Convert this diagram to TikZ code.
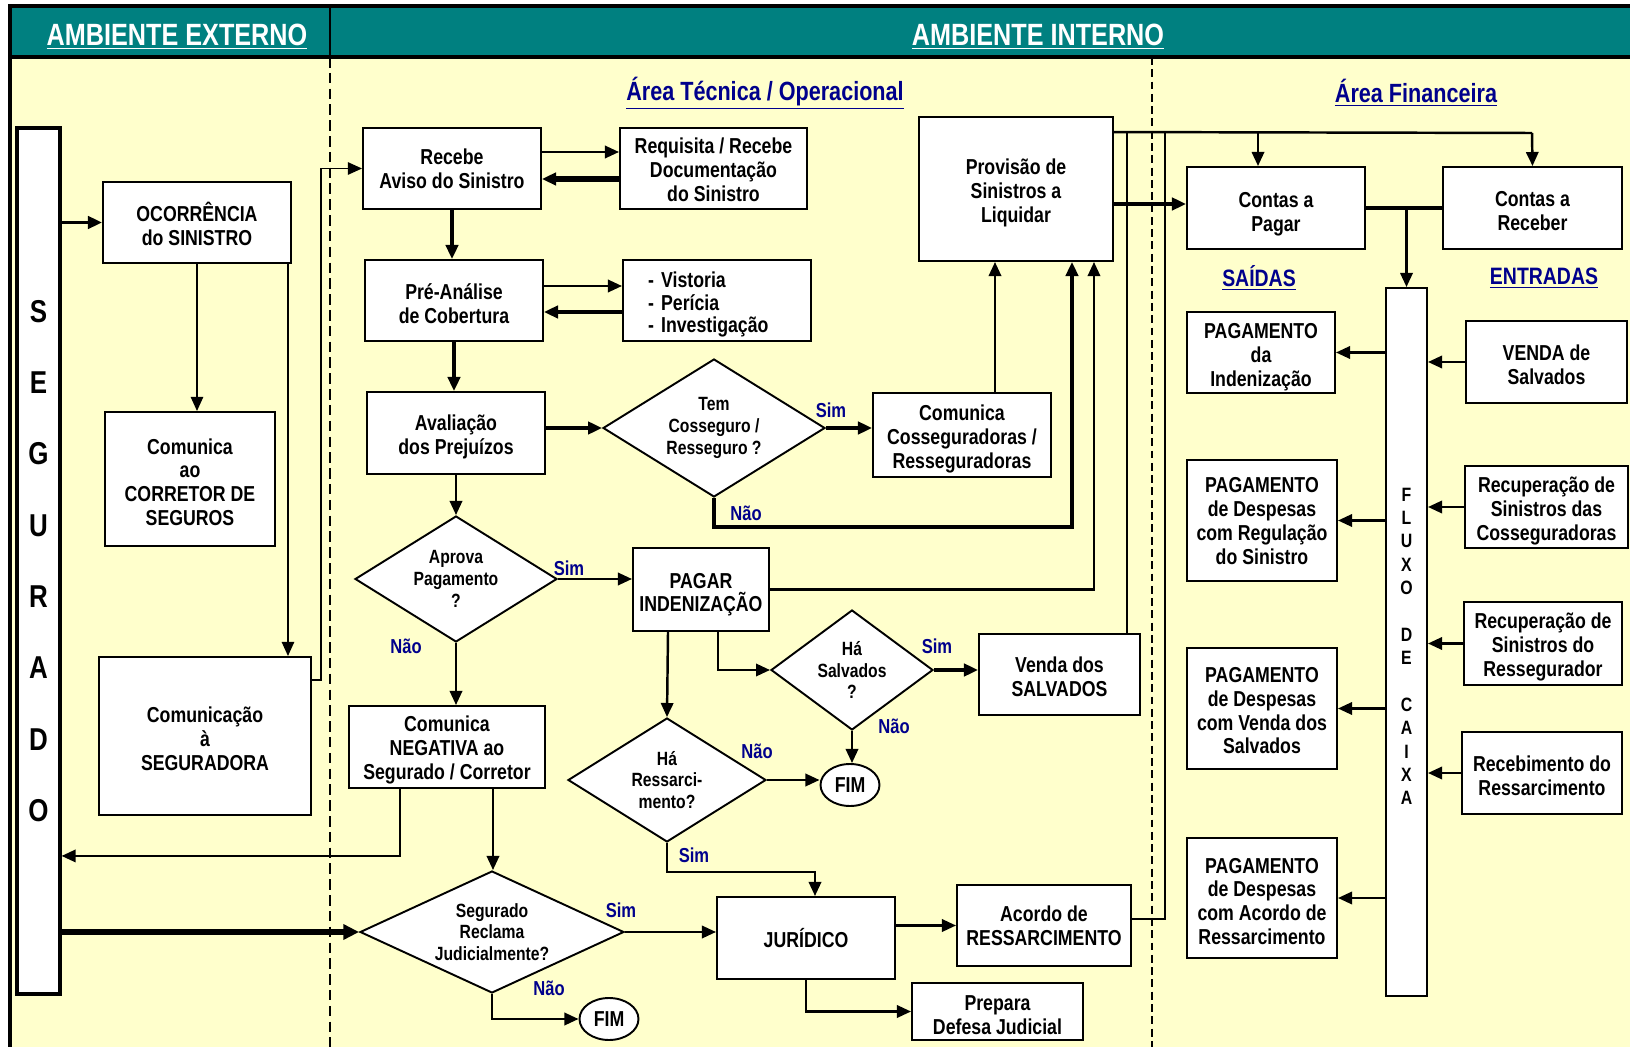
\documentclass[tikz,border=0pt]{standalone}
\usepackage{fontspec}
\setmainfont{Liberation Sans}[FakeStretch=0.82]
\usetikzlibrary{shapes.geometric,arrows.meta}
\definecolor{hdr}{RGB}{0,128,128}
\definecolor{bgy}{RGB}{255,255,204}
\definecolor{nvy}{RGB}{0,0,140}
\newcommand\bxf{\fontsize{12.3}{13.6}\selectfont\bfseries}
\newcommand\dmf{\fontsize{10.9}{12.3}\selectfont\bfseries}
\newcommand\bxs{12.5pt}
% \mkbox[opts]{name}{x1}{y1}{x2}{y2}{text}
\newcommand\mkbox[7][]{\node[box, minimum width={(#5-#3)*0.02cm}, minimum height={(#6-#4)*0.02cm}, #1] (#2) at ({(#3+#5)/2},{(#4+#6)/2}) {\rule{0pt}{\bxs}#7};}
\begin{document}
\begin{tikzpicture}[x=0.02cm,y=-0.02cm,
  box/.style={draw, fill=white, line width=1.1pt, inner sep=0pt, align=center, font=\bxf},
  dia/.style={draw, fill=white, diamond, line width=1.1pt, inner sep=0pt, align=center, font=\dmf},
  fimn/.style={draw, fill=white, ellipse, line width=1.1pt, inner sep=0pt, font=\bxf, minimum width=1.18cm, minimum height=0.84cm},
  lab/.style={font=\fontsize{11.5}{13}\selectfont\bfseries, text=nvy, inner sep=0pt},
  ttl/.style={font=\fontsize{15}{17}\selectfont\bfseries, text=nvy, inner sep=0pt},
  sub/.style={font=\fontsize{13.5}{15}\selectfont\bfseries, text=nvy, inner sep=0pt},
  strut/.style={execute at begin node={\def\bxs{#1}}},
  lw1/.style={line width=0.9pt},
  lw2/.style={line width=1.4pt},
  lw3/.style={line width=2.2pt},
  lw4/.style={line width=2.9pt},
  arr/.style={-{Triangle[length=8pt,width=7pt]}},
  bigarr/.style={-{Triangle[length=9pt,width=8.5pt]}},
]
\useasboundingbox (0,0) rectangle (1630,1047);
\clip (0,0) rectangle (1630,1047);
% background and frame
\fill[bgy] (10,57) rectangle (1630,1047);
\fill[hdr] (10,6) rectangle (1630,57);
\draw[line width=1.8pt] (10,1047) -- (10,6) -- (1630,6);
\draw[line width=1.8pt] (10,57) -- (1630,57);
\draw[line width=1.5pt] (330,6) -- (330,57);
\draw[line width=1.1pt, dash pattern=on 6pt off 3pt] (330,57) -- (330,1047);
\draw[line width=1.1pt, dash pattern=on 4.5pt off 2.5pt] (1152,57) -- (1152,1047);

% titles
\node[font=\fontsize{17.5}{20}\selectfont\bfseries, text=white, inner sep=0pt] (tExt) at (177,37) {\underline{AMBIENTE EXTERNO}};
\node[font=\fontsize{17.5}{20}\selectfont\bfseries, text=white, inner sep=0pt] (tInt) at (1038,37) {\underline{AMBIENTE INTERNO}};
\node[ttl] (tTec) at (765,93) {\underline{Área Técnica / Operacional}};
\node[ttl] (tFin) at (1416,93) {\underline{Área Financeira}};
\node[sub] (tSai) at (1259,278) {\underline{SAÍDAS}};
\node[sub] (tEnt) at (1544,278) {\underline{ENTRADAS}};

% bars
\mkbox[line width=1.8pt, font=\fontsize{18}{40.6}\selectfont\bfseries]{seg}{17}{128}{60}{994}{S\\E\\G\\U\\R\\A\\D\\O}
\mkbox[font=\fontsize{11}{13.3}\selectfont\bfseries]{fluxo}{1386}{288}{1427}{996}{F\\L\\U\\X\\O\\~\\D\\E\\~\\C\\A\\I\\X\\A}

% external boxes
\mkbox{ocor}{103}{182}{291}{263}{OCORRÊNCIA\\do SINISTRO}
\mkbox{corr}{105}{412}{275}{546}{Comunica\\ao\\CORRETOR DE\\SEGUROS}
\mkbox{comseg}{99}{657}{311}{815}{Comunicação\\à\\SEGURADORA}

% technical area
\mkbox[strut=8pt]{recebe}{363}{128}{541}{209}{Recebe\\Aviso do Sinistro}
\mkbox[strut=10pt]{req}{620}{128}{807}{209}{Requisita / Recebe\\Documentação\\do Sinistro}
\mkbox{pre}{365}{260}{543}{341}{Pré-Análise\\de Cobertura}
\mkbox[align=left, text width=2.76cm, strut=13.5pt, font=\fontsize{12.3}{12.8}\selectfont\bfseries]{vist}{623}{260}{811}{341}{- Vistoria\\- Perícia\\- Investigação}
\mkbox[strut=13pt]{aval}{367}{392}{545}{474}{Avaliação\\dos Prejuízos}
\mkbox[strut=13pt]{cosseg}{873}{393}{1051}{477}{Comunica\\Cosseguradoras /\\Resseguradoras}
\mkbox[strut=13pt]{prov}{919}{117}{1113}{261}{Provisão de\\Sinistros a\\Liquidar}
\mkbox[strut=14.5pt]{pagar}{633}{548}{769}{631}{PAGAR\\INDENIZAÇÃO}
\mkbox{neg}{349}{706}{545}{788}{Comunica\\NEGATIVA ao\\Segurado / Corretor}
\mkbox[strut=11pt]{venda}{979}{634}{1140}{715}{Venda dos\\SALVADOS}
\mkbox[strut=8pt]{jur}{717}{897}{895}{979}{JURÍDICO}
\mkbox[strut=8pt]{acordo}{957}{885}{1131}{966}{Acordo de\\RESSARCIMENTO}
\mkbox{prep}{912}{983}{1083}{1040}{Prepara\\Defesa Judicial}

\node[dia, shape aspect=1.6, minimum width=4.44cm, minimum height=2.76cm] (tem) at (714,428) {Tem\\Cosseguro /\\Resseguro ?};
\node[dia, shape aspect=1.6, minimum width=4.04cm, minimum height=2.52cm] (aprova) at (456,579) {Aprova\\Pagamento\\?};
\node[dia, shape aspect=1.35, minimum width=3.24cm, minimum height=2.4cm] (salv) at (852,670) {Há\\Salvados\\?};
\node[dia, shape aspect=1.6, minimum width=3.96cm, minimum height=2.48cm] (ress) at (667,780) {Há\\Ressarci-\\mento?};
\node[dia, shape aspect=2.16, minimum width=5.28cm, minimum height=2.44cm] (recl) at (492,932) {Segurado\\Reclama\\Judicialmente?};

\node[fimn] (fim1) at (850,785) {FIM};
\node[fimn] (fim2) at (609,1019) {FIM};

% financial area
\mkbox[strut=15.5pt]{cpag}{1187}{167}{1365}{249}{Contas a\\Pagar}
\mkbox{crec}{1443}{167}{1622}{249}{Contas a\\Receber}
\mkbox[strut=14pt]{pg1}{1187}{312}{1335}{393}{PAGAMENTO\\da\\Indenização}
\mkbox[strut=9pt]{pg2}{1187}{460}{1337}{581}{PAGAMENTO\\de Despesas\\com Regulação\\do Sinistro}
\mkbox[strut=11pt]{pg3}{1187}{648}{1337}{769}{PAGAMENTO\\de Despesas\\com Venda dos\\Salvados}
\mkbox{pg4}{1187}{838}{1337}{958}{PAGAMENTO\\de Despesas\\com Acordo de\\Ressarcimento}
\mkbox{en1}{1466}{321}{1627}{403}{VENDA de\\Salvados}
\mkbox[strut=13pt]{en2}{1465}{466}{1628}{548}{Recuperação de\\Sinistros das\\Cosseguradoras}
\mkbox{en3}{1464}{602}{1622}{685}{Recuperação de\\Sinistros do\\Ressegurador}
\mkbox{en4}{1462}{732}{1622}{814}{Recebimento do\\Ressarcimento}

\coordinate (topR) at (1532,133);
\coordinate (jR) at (1165,133);

% labels
\node[lab] (s1) at (831,410) {Sim};
\node[lab] (n1) at (746,513) {Não};
\node[lab] (s2) at (569,568) {Sim};
\node[lab] (n2) at (406,646) {Não};
\node[lab] (s3) at (937,646) {Sim};
\node[lab] (n3) at (894,726) {Não};
\node[lab] (n4) at (757,751) {Não};
\node[lab] (s4) at (694,855) {Sim};
\node[lab] (s5) at (621,910) {Sim};
\node[lab] (n5) at (549,988) {Não};

% connectors: external
\draw[lw3,arr] (seg.east |- ocor.west) -- (ocor.west);
\draw[lw1,arr] (ocor.south) -- (ocor.south |- corr.north);
\draw[lw1,arr] ([xshift=1.82cm]ocor.south) -- ([xshift=1.82cm]ocor.south |- comseg.north);
\draw[lw1,arr] ([yshift=-0.48cm]comseg.north east) -- ++(9,0) |- (recebe.west);

% technical
\draw[lw2,arr] ([yshift=0.33cm]recebe.east) -- ([yshift=0.33cm]req.west);
\draw[lw4,arr] ([yshift=-0.21cm]req.west) -- ([yshift=-0.21cm]recebe.east);
\draw[lw3,arr] (recebe.south) -- (recebe.south |- pre.north);
\draw[lw2,arr] ([yshift=0.29cm]pre.east) -- ([yshift=0.29cm]vist.west);
\draw[lw3,arr] ([yshift=-0.23cm]vist.west) -- ([yshift=-0.23cm]pre.east);
\draw[lw3,arr] (pre.south) -- (pre.south |- aval.north);
\draw[lw3,arr] (aval.east |- tem.west) -- (tem.west);
\draw[lw3,arr] (tem.east) -- (tem.east -| cosseg.west);
\draw[lw2,arr] ([xshift=0.66cm]cosseg.north) -- ([xshift=0.66cm]cosseg.north |- prov.south);
\draw[lw3,arr] (tem.south) -- ++(0,29) -| ([xshift=1.12cm]prov.south);
\draw[lw2,arr] (aval.south) -- (aval.south |- aprova.north);
\draw[lw2,arr] (aprova.east) -- (aprova.east -| pagar.west);
\draw[lw2,arr] (pagar.east) -| ([xshift=1.56cm]prov.south);
\draw[lw2,arr] (aprova.south) -- (aprova.south |- neg.north);
\draw[lw2,arr] ([xshift=-0.94cm]neg.south) |- ([yshift=-5.9cm]seg.east);
\draw[lw2,arr] ([xshift=0.92cm]neg.south) -- ([xshift=0.92cm]neg.south |- recl.north);
\draw[lw2,arr] ([xshift=-0.66cm]pagar.south) -- (ress.north);
\draw[lw2,arr] ([xshift=0.34cm]pagar.south) |- (salv.west);
\draw[lw3,arr] (salv.east) -- (salv.east -| venda.west);
\draw[lw2,arr] (salv.south) -- (salv.south |- fim1.north);
\draw[lw2,arr] (ress.east) -- (ress.east -| fim1.west);
\draw[lw2,arr] (ress.south) -- ++(0,29) -| ([xshift=0.18cm]jur.north);
\draw[lw4,bigarr] (seg.east |- recl.west) -- (recl.west);
\draw[lw2,arr] (recl.east) -- (recl.east -| jur.west);
\draw[lw2,arr] (recl.south) |- (fim2.west);
\draw[lw2,arr] (acordo.west -| jur.east) -- (acordo.west);
\draw[lw2,arr] (jur.south) |- (prep.west);

% to financial area
\draw[lw2] ([yshift=-0.32cm]prov.north east) -- (topR);
\draw[lw2] ([xshift=1.35cm]venda.north) -- ([xshift=1.35cm]venda.north |- topR);
\draw[lw2] ([yshift=0.13cm]acordo.east) -| (jR);
\draw[lw2,arr] (topR) -- (crec.north);
\draw[lw2,arr] ([xshift=-0.36cm]cpag.north |- topR) -- ([xshift=-0.36cm]cpag.north);
\draw[lw3,arr] ([yshift=-0.3cm]prov.east) -- ([yshift=-0.3cm]prov.east -| cpag.west);
\draw[lw3] (cpag.east) -- (crec.west);
\draw[lw2,arr] (fluxo.north |- cpag.east) -- (fluxo.north);
\foreach \n in {pg1,pg2,pg3,pg4} \draw[lw2,arr] (fluxo.west |- \n.east) -- (\n.east);
\foreach \n in {en1,en2,en3,en4} \draw[lw2,arr] (\n.west) -- (\n.west -| fluxo.east);
\end{tikzpicture}
\end{document}
